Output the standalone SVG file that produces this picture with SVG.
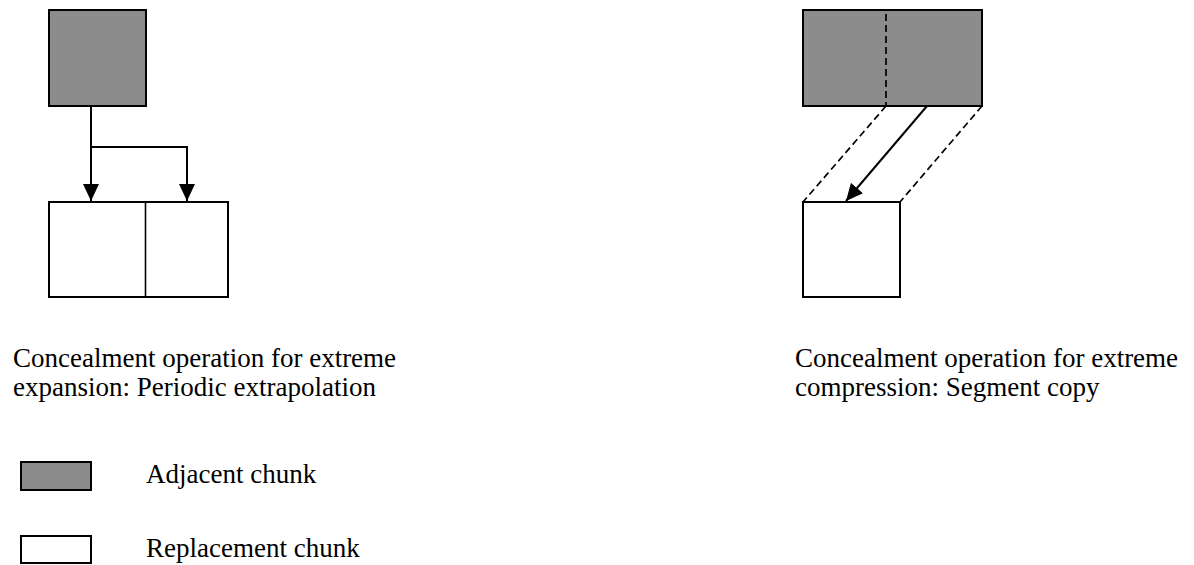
<svg xmlns="http://www.w3.org/2000/svg" width="1194" height="565" viewBox="0 0 1194 565">
<style>
.adj{fill:#8c8c8c;stroke:#000;stroke-width:2}
.rep{fill:#fff;stroke:#000;stroke-width:2}
.ln{fill:none;stroke:#000;stroke-width:2}
.dash{fill:none;stroke:#000;stroke-width:1.7;stroke-dasharray:7,4}
text{font-family:"Liberation Serif","Times New Roman",serif;font-size:27px;fill:#000}
</style>
<defs>
<marker id="arr" markerUnits="userSpaceOnUse" markerWidth="18" markerHeight="16" refX="17" refY="8" orient="auto" viewBox="0 0 18 16">
<path d="M0,0 L17,8 L0,16 z" fill="#000"/>
</marker>
</defs>
<rect width="1194" height="565" fill="#fff"/>
<g id="left-adjacent"><rect class="adj" x="49" y="10" width="97" height="96"/></g>
<g id="left-replacement">
<rect class="rep" x="49" y="202" width="179" height="95"/>
<line x1="145.5" y1="202" x2="145.5" y2="297" stroke="#000" stroke-width="1.6"/>
</g>
<g id="right-adjacent">
<rect class="adj" x="803" y="10" width="179" height="96"/>
<line class="dash" x1="886" y1="14" x2="886" y2="106"/>
</g>
<g id="right-replacement"><rect class="rep" x="803" y="202" width="97" height="95"/></g>
<g id="connectors">
<path class="ln" d="M91,106 V201" marker-end="url(#arr)"/>
<path class="ln" d="M91,147 H187 V201" marker-end="url(#arr)"/>
<line class="dash" x1="886" y1="106" x2="803" y2="202"/>
<line class="dash" x1="982" y1="106" x2="900" y2="202"/>
<line class="ln" x1="927" y1="106" x2="846" y2="201" marker-end="url(#arr)"/>
</g>
<g id="captions">
<text x="13" y="367">Concealment operation for extreme</text>
<text x="13" y="396">expansion: Periodic extrapolation</text>
<text x="795" y="367">Concealment operation for extreme</text>
<text x="795" y="396">compression: Segment copy</text>
</g>
<g id="legend-adjacent">
<rect class="adj" x="21" y="462" width="70" height="28"/>
<text x="146" y="483">Adjacent chunk</text>
</g>
<g id="legend-replacement">
<rect class="rep" x="21" y="536" width="70" height="27"/>
<text x="146" y="557">Replacement chunk</text>
</g>
</svg>
